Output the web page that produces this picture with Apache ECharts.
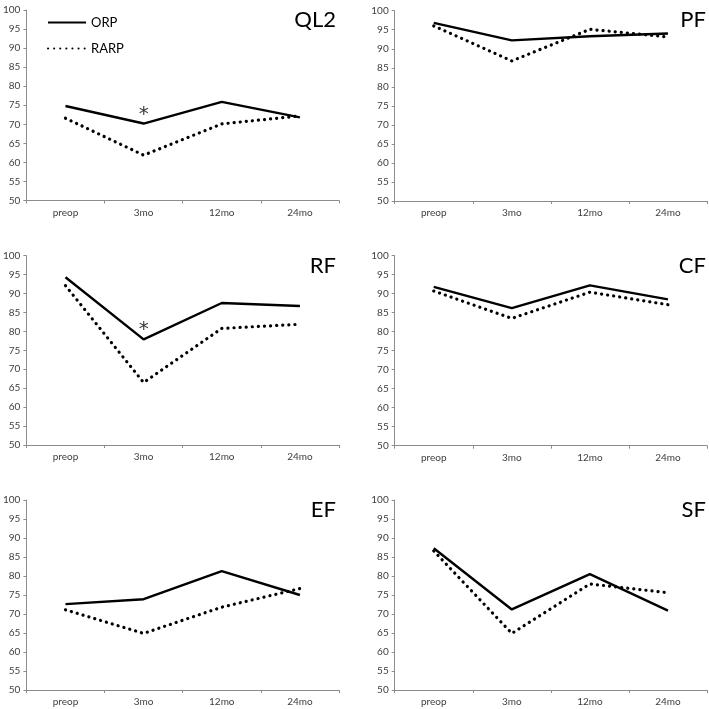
<!DOCTYPE html>
<html>
<head>
<meta charset="utf-8">
<script src="https://cdn.jsdelivr.net/npm/echarts@6/dist/echarts.min.js"></script>
<style>html,body{margin:0;padding:0;background:#fff}#c{width:709px;height:709px}</style>
</head>
<body>
<div id="c"></div>
<script>
const categories = ['preop', '3mo', '12mo', '24mo'];
const panelNames = ['QL2', 'PF', 'RF', 'CF', 'EF', 'SF'];
const yTicks = [50, 100, 5]; // min, max, step

const orpQL2 = [74.8, 70.2, 75.9, 71.8];
const rarpQL2 = [71.6, 61.9, 70.1, 72.2];
const orpPF = [96.8, 92.2, 93.3, 94.0];
const rarpPF = [96.0, 86.8, 95.1, 93.1];
const orpRF = [94.3, 77.9, 87.5, 86.7];
const rarpRF = [92.1, 66.5, 80.8, 81.9];
const orpCF = [91.8, 86.2, 92.2, 88.5];
const rarpCF = [90.7, 83.5, 90.4, 87.1];
const orpEF = [72.6, 73.9, 81.3, 75.0];
const rarpEF = [71.1, 64.9, 71.8, 76.7];
const orpSF = [87.3, 71.2, 80.5, 70.9];
const rarpSF = [86.6, 64.9, 77.9, 75.6];

// significance markers (asterisks): panel, category, value
const sigMarks = [['QL2', '3mo', 73.6], ['RF', '3mo', 81.4]];

const orpData = [orpQL2, orpPF, orpRF, orpCF, orpEF, orpSF];
const rarpData = [rarpQL2, rarpPF, rarpRF, rarpCF, rarpEF, rarpSF];

const FONT = 'Lato';
const grids = [
  {left: 22.7, top: 10, width: 316.3, height: 190.5},
  {left: 394.7, top: 10.7, width: 312.3, height: 190.3},
  {left: 22.7, top: 255.7, width: 316.3, height: 189.3},
  {left: 394.7, top: 255.7, width: 312.3, height: 190},
  {left: 22.7, top: 500, width: 316.3, height: 190},
  {left: 394.7, top: 500, width: 312.3, height: 190}
];
const titlePos = [
  {right: 373, top: 9},
  {right: 3, top: 9},
  {right: 373, top: 255},
  {right: 3, top: 255},
  {right: 373, top: 499},
  {right: 3, top: 499}
];
const axisColor = '#8c8c8c';
const textColor = '#404040';

const xAxes = [], yAxes = [], series = [], titles = [];
panelNames.forEach((name, i) => {
  xAxes.push({
    type: 'category', gridIndex: i, data: categories, boundaryGap: true,
    axisLine: {lineStyle: {color: axisColor, width: 1}},
    axisTick: {show: true, length: 3, lineStyle: {color: axisColor}},
    axisLabel: {fontFamily: FONT, fontSize: 10, color: textColor, margin: 7},
    splitLine: {show: false}
  });
  yAxes.push({
    type: 'value', gridIndex: i, min: yTicks[0], max: yTicks[1], interval: yTicks[2],
    axisLine: {show: true, lineStyle: {color: axisColor, width: 1}},
    axisTick: {show: true, length: 3, lineStyle: {color: axisColor}},
    axisLabel: {fontFamily: FONT, fontSize: 10, color: textColor, margin: 6},
    splitLine: {show: false}
  });
  titles.push(Object.assign({
    text: name,
    textStyle: {fontFamily: FONT, fontSize: 22, fontWeight: 'normal', color: '#000'},
    padding: 0
  }, titlePos[i]));
  series.push({
    name: 'ORP', type: 'line', xAxisIndex: i, yAxisIndex: i, data: orpData[i],
    symbol: 'none', showSymbol: false, silent: true, animation: false,
    lineStyle: {color: '#000', width: 2.4, type: 'solid'},
    itemStyle: {color: '#000'}
  });
  series.push({
    name: 'RARP', type: 'line', xAxisIndex: i, yAxisIndex: i, data: rarpData[i],
    symbol: 'none', showSymbol: false, silent: true, animation: false,
    lineStyle: {color: '#000', width: 3.2, type: [0.1, 6], cap: 'round'},
    itemStyle: {color: '#000'}
  });
  const marks = sigMarks.filter(m => m[0] === name).map(m => [m[1], m[2]]);
  if (marks.length) {
    series.push({
      name: 'sig', type: 'scatter', xAxisIndex: i, yAxisIndex: i, data: marks,
      symbol: 'circle', symbolSize: 1, silent: true, animation: false, z: 5,
      itemStyle: {color: 'rgba(0,0,0,0)'},
      label: {show: true, formatter: '*', position: 'inside', offset: [0, 4],
              fontFamily: 'DejaVu Sans', fontSize: 20, color: '#000'}
    });
  }
});

const chart = echarts.init(document.getElementById('c'), null, {renderer: 'canvas'});
chart.setOption({
  animation: false,
  backgroundColor: '#fff',
  title: titles,
  legend: {
    data: ['ORP', 'RARP'], orient: 'vertical', left: 47, top: 16, padding: 0,
    itemWidth: 38, itemHeight: 14, itemGap: 13,
    itemStyle: {opacity: 0},
    textStyle: {fontFamily: FONT, fontSize: 13, color: '#000'},
    selectedMode: false
  },
  grid: grids,
  xAxis: xAxes,
  yAxis: yAxes,
  series: series
});
</script>
</body>
</html>
